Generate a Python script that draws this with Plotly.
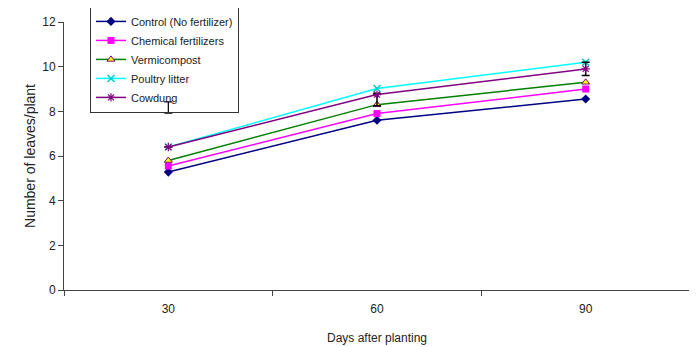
import plotly.graph_objects as go

days = ["30", "60", "90"]
control = [5.28, 7.6, 8.55]
chemical = [5.55, 7.9, 9.0]
vermicompost = [5.8, 8.3, 9.3]
poultry = [6.4, 9.02, 10.2]
cowdung = [6.4, 8.75, 9.9]
cowdung_err_plus = [0, 0.05, 0.3]
cowdung_err_minus = [0, 0.5, 0.3]
lsd_pos = ["30"]
lsd_val = [8.17]
lsd_err = [0.25]

fig = go.Figure()
fig.add_trace(go.Scatter(x=days, y=control, name="Control (No fertilizer)", mode="lines+markers",
                         line=dict(color="#000080", width=1.5),
                         marker=dict(symbol="diamond", size=7, color="#000080")))
fig.add_trace(go.Scatter(x=days, y=chemical, name="Chemical fertilizers", mode="lines+markers",
                         line=dict(color="#FF00FF", width=1.5),
                         marker=dict(symbol="square", size=7, color="#FF00FF")))
fig.add_trace(go.Scatter(x=days, y=vermicompost, name="Vermicompost", mode="lines+markers",
                         line=dict(color="#008000", width=1.5),
                         marker=dict(symbol="triangle-up", size=7, color="#FFFF00",
                                     line=dict(color="#800080", width=1))))
fig.add_trace(go.Scatter(x=days, y=poultry, name="Poultry litter", mode="lines+markers",
                         line=dict(color="#00FFFF", width=1.5),
                         marker=dict(symbol="x-thin", size=7, color="#00FFFF",
                                     line=dict(color="#00CCCC", width=1.5))))
fig.add_trace(go.Scatter(x=days, y=cowdung, name="Cowdung", mode="lines+markers",
                         line=dict(color="#800080", width=1.5),
                         marker=dict(symbol="asterisk", size=7, color="#800080",
                                     line=dict(color="#800080", width=1.2)),
                         error_y=dict(type="data", symmetric=False, array=cowdung_err_plus,
                                      arrayminus=cowdung_err_minus, color="black",
                                      thickness=1.5, width=4)))
fig.add_trace(go.Scatter(x=lsd_pos, y=lsd_val, mode="markers", showlegend=False,
                         marker=dict(size=1, color="rgba(0,0,0,0)"),
                         error_y=dict(type="data", array=lsd_err, visible=True, color="black",
                                      thickness=1.2, width=4)))

fig.update_layout(
    width=689, height=339,
    margin=dict(l=56, r=7, t=14, b=57, autoexpand=False),
    paper_bgcolor="white", plot_bgcolor="white",
    font=dict(family="Arial, Liberation Sans, sans-serif", size=12, color="#222222"),
    showlegend=True,
    legend=dict(x=0.0415, y=1.06, xanchor="left", yanchor="top",
                bordercolor="#333333", borderwidth=1, bgcolor="rgba(255,255,255,0)",
                font=dict(size=11), tracegroupgap=0, itemwidth=30),
    xaxis=dict(type="category", categoryorder="array", categoryarray=days,
               range=[-0.5, 2.5], tickson="boundaries", ticks="outside", ticklen=5,
               tickcolor="#444", showline=True, linecolor="#444", linewidth=1,
               showgrid=False, zeroline=False, automargin=False, ticklabelstandoff=8,
               title=dict(text="Days after planting", standoff=18)),
    xaxis_title_font=dict(size=12),
    yaxis=dict(range=[0, 12], tickvals=[0, 2, 4, 6, 8, 10, 12], ticks="outside", ticklen=5,
               tickcolor="#444", showline=True, linecolor="#444", linewidth=1,
               showgrid=False, zeroline=False, automargin=False,
               title=dict(text="Number of leaves/plant", standoff=3)),
)

fig.write_html("out.html")
